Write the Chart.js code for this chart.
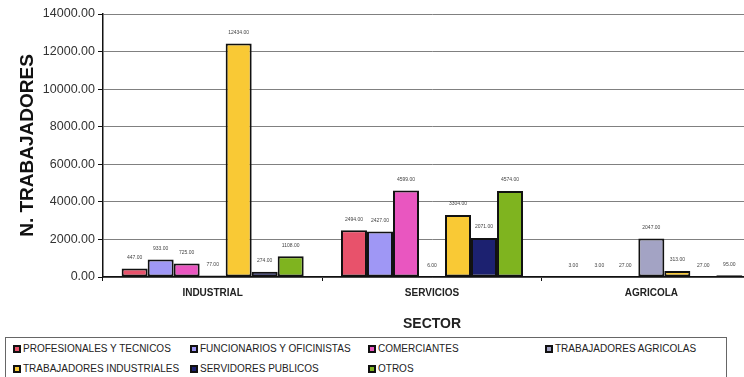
<!DOCTYPE html>
<html>
<head>
<meta charset="utf-8">
<script src="https://cdn.jsdelivr.net/npm/chart.js@4"></script>
<style>
  html, body { margin: 0; padding: 0; background: #fff; overflow: hidden; width: 744px; height: 377px; }
  #wrap { position: absolute; left: 0; top: 0; width: 762px; height: 337px; }
  #legend {
    position: absolute; left: 5px; top: 337px; width: 722px; height: 50px;
    border: 1px solid #666; box-sizing: border-box;
    font-family: "Liberation Sans", Arial, sans-serif; font-size: 10px; color: #222;
  }
  .item { position: absolute; display: flex; align-items: center; white-space: nowrap; }
  .sw { width: 4px; height: 4px; border: 2px solid #111; margin-right: 2px; }
</style>
</head>
<body>
<div id="wrap"><canvas id="chart"></canvas></div>
<div id="legend"></div>
<script>
const sectors = ["INDUSTRIAL", "SERVICIOS", "AGRICOLA"];
const groups = [
  "PROFESIONALES Y TECNICOS",
  "FUNCIONARIOS Y OFICINISTAS",
  "COMERCIANTES",
  "TRABAJADORES AGRICOLAS",
  "TRABAJADORES INDUSTRIALES",
  "SERVIDORES PUBLICOS",
  "OTROS",
];
const profesionales = [447, 2494, 3];
const funcionarios = [933, 2427, 3];
const comerciantes = [725, 4599, 27];
const agricolas = [77, 6, 2047];
const industriales = [12434, 3304, 313];
const servidores = [274, 2071, 27];
const otros = [1108, 4574, 95];
const yTicks = [0, 2000, 4000, 6000, 8000, 10000, 12000, 14000];

const colors = ["#e8526b", "#9f97f5", "#e956c0", "#a3a3c4", "#f9c935", "#1c2170", "#7fb41f"];
const series = [profesionales, funcionarios, comerciantes, agricolas, industriales, servidores, otros];

const valueLabels = {
  id: "valueLabels",
  afterDatasetsDraw(chart) {
    const ctx = chart.ctx;
    ctx.save();
    ctx.font = "5px Arial";
    ctx.fillStyle = "#444";
    ctx.textAlign = "center";
    ctx.textBaseline = "middle";
    chart.data.datasets.forEach((ds, i) => {
      chart.getDatasetMeta(i).data.forEach((bar, j) => {
        ctx.fillText(ds.data[j].toFixed(2), bar.x, bar.y - 11);
      });
    });
    ctx.restore();
  },
};

const ctx = document.getElementById("chart").getContext("2d");
const chart = new Chart(ctx, {
  type: "bar",
  data: {
    labels: sectors,
    datasets: groups.map((g, i) => ({
      label: g,
      data: series[i],
      backgroundColor: colors[i],
      borderColor: "#111",
      borderWidth: 2,
      borderSkipped: false,
      categoryPercentage: 0.83,
      barPercentage: 1.0,
    })),
  },
  options: {
    responsive: true,
    maintainAspectRatio: false,
    animation: false,
    layout: { padding: { top: 14, right: 1, left: 12, bottom: 0 } },
    plugins: {
      legend: { display: false },
      tooltip: { enabled: false },
    },
    scales: {
      x: {
        afterFit: (s) => { s.height = 60; },
        grid: { display: true, drawOnChartArea: false, color: "#111", tickLength: 4 },
        border: { color: "#111", width: 1.5 },
        ticks: { color: "#222", font: { family: "Arial", size: 10, weight: "bold" }, padding: 6 },
        title: {
          display: true, text: "SECTOR", color: "#222",
          font: { family: "Arial", size: 14, weight: "bold" }, padding: { top: 8 },
        },
      },
      y: {
        min: 0,
        max: 14000,
        afterFit: (s) => { s.width = 91; },
        afterBuildTicks: (s) => { s.ticks = yTicks.map((v) => ({ value: v })); },
        grid: { color: "#808080", lineWidth: 1, tickColor: "#111", tickLength: 5 },
        border: { color: "#111", width: 1.5 },
        ticks: {
          color: "#333",
          font: { family: "Arial", size: 12.5 },
          padding: 3,
          callback: (v) => v.toFixed(2),
        },
        title: {
          display: true, text: "N. TRABAJADORES", color: "#111",
          font: { family: "Arial", size: 19, weight: "bold" }, padding: { bottom: 4 },
        },
      },
    },
  },
  plugins: [valueLabels],
});

const legendEl = document.getElementById("legend");
const colX = [7, 184, 362, 539];
chart.data.datasets.forEach((ds, i) => {
  const item = document.createElement("div");
  item.className = "item";
  item.style.left = colX[i % 4] + "px";
  item.style.top = (i < 4 ? 5 : 25) + "px";
  const sw = document.createElement("span");
  sw.className = "sw";
  sw.style.background = ds.backgroundColor;
  item.appendChild(sw);
  item.appendChild(document.createTextNode(ds.label));
  legendEl.appendChild(item);
});
</script>
</body>
</html>
